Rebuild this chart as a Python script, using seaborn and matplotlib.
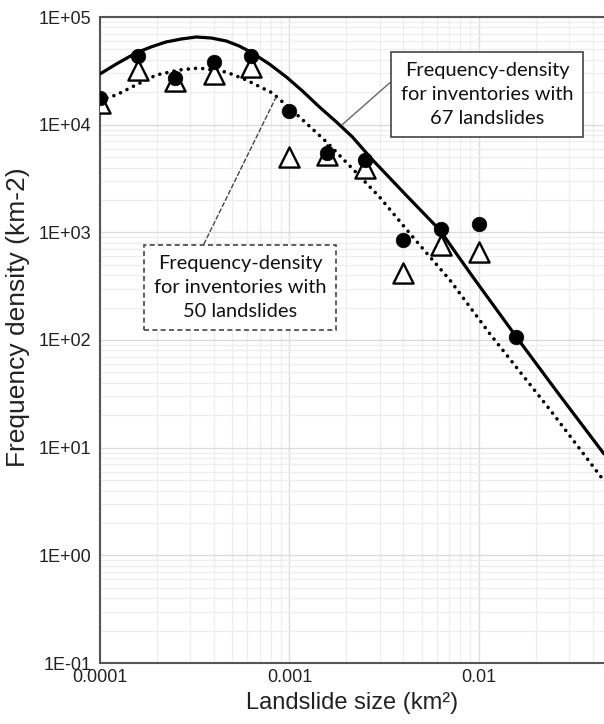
import numpy as np
import pandas as pd
import matplotlib
matplotlib.use('Agg')
import matplotlib.pyplot as plt
import matplotlib.ticker as mticker
import seaborn as sns

# ── Data ──────────────────────────────────────────────────────────────
# binned landslide sizes (km2)
bin_size = [1.0e-4, 1.58e-4, 2.5e-4, 3.98e-4, 6.3e-4, 1.0e-3,
            1.58e-3, 2.5e-3, 3.98e-3, 6.3e-3, 1.0e-2, 1.58e-2]
# frequency density, inventories with 67 landslides (filled circles)
dens_67 = [1.77e4, 4.3e4, 2.7e4, 3.8e4, 4.35e4, 1.34e4,
           5.45e3, 4.7e3, 850, 1.08e3, 1.2e3, 107]
# frequency density, inventories with 50 landslides (open triangles)
tri_size = bin_size[:11]
dens_50 = [1.6e4, 3.2e4, 2.55e4, 2.95e4, 3.4e4, 5.0e3,
           5.2e3, 3.97e3, 420, 764, 658]

# fitted frequency-density curve, 67 landslides (solid)
fit67_x = [1.0e-4, 1.22e-4, 1.55e-4, 1.86e-4, 2.23e-4, 2.69e-4, 3.22e-4,
           3.87e-4, 4.65e-4, 5.43e-4, 6.37e-4, 7.83e-4, 9.64e-4, 1.17e-3,
           1.44e-3, 1.77e-3, 2.15e-3, 2.75e-3, 4.0e-3, 6.22e-3, 9.3e-3,
           1.59e-2, 2.59e-2, 4.58e-2]
fit67_y = [2.96e4, 3.66e4, 4.64e4, 5.27e4, 5.86e4, 6.25e4, 6.52e4,
           6.38e4, 5.98e4, 5.38e4, 4.64e4, 3.66e4, 2.77e4, 2.06e4,
           1.46e4, 1.06e4, 7.69e3, 4.70e3, 2.35e3, 1.05e3, 385,
           105, 33, 8.75]
# fitted frequency-density curve, 50 landslides (dotted)
fit50_x = [1.0e-4, 1.22e-4, 1.55e-4, 1.98e-4, 2.62e-4, 3.34e-4, 4.65e-4,
           5.92e-4, 8.13e-4, 1.13e-3, 1.57e-3, 2.2e-3, 2.99e-3, 4.48e-3,
           7.03e-3, 1.14e-2, 2.38e-2, 4.58e-2]
fit50_y = [1.69e4, 1.89e4, 2.34e4, 2.89e4, 3.22e4, 3.36e4, 3.08e4,
           2.60e4, 1.97e4, 1.18e4, 6.9e3, 3.75e3, 2.13e3, 906,
           361, 115, 22.4, 4.92]

# ── Style ─────────────────────────────────────────────────────────────
sns.set_theme(style='white')
plt.rcParams['font.family'] = ['Liberation Sans', 'DejaVu Sans']

fig = plt.figure(figsize=(6.04, 7.24), dpi=100)
ax = fig.add_axes([100 / 604, 61 / 724, 504 / 604, 646 / 724])

ax.set_xscale('log')
ax.set_yscale('log')
ax.set_xlim(1e-4, 4.58e-2)
ax.set_ylim(1e-1, 1e5)

ax.grid(which='major', color='#dcdcdc', lw=1.0, zorder=0)
ax.grid(which='minor', color='#ededed', lw=0.9, zorder=0)
ax.set_axisbelow(True)

# ── Curves ────────────────────────────────────────────────────────────
sns.lineplot(x=fit67_x, y=fit67_y, ax=ax, color='black', lw=2.3,
             sort=True, zorder=3)
sns.lineplot(x=fit50_x, y=fit50_y, ax=ax, color='black', lw=2.6,
             sort=True, zorder=3, linestyle=(0, (0.01, 2.0)),
             dash_capstyle='round')

# ── Points ────────────────────────────────────────────────────────────
sns.scatterplot(x=tri_size, y=dens_50, ax=ax, marker='^', s=210,
                facecolor='white', edgecolor='black', linewidth=1.7,
                zorder=4)
sns.scatterplot(x=bin_size, y=dens_67, ax=ax, marker='o', s=110,
                color='black', edgecolor='black', linewidth=0.5, zorder=5)

# ── Axes cosmetics ────────────────────────────────────────────────────
for side in ['left', 'bottom', 'top']:
    ax.spines[side].set_color('#555555')
    ax.spines[side].set_linewidth(1.5)
ax.spines['right'].set_visible(False)

ax.xaxis.set_major_locator(mticker.LogLocator(base=10, numticks=10))
ax.xaxis.set_minor_locator(mticker.LogLocator(base=10, subs=np.arange(2, 10), numticks=20))
ax.yaxis.set_major_locator(mticker.LogLocator(base=10, numticks=10))
ax.yaxis.set_minor_locator(mticker.LogLocator(base=10, subs=np.arange(2, 10), numticks=20))
ax.xaxis.set_major_formatter(mticker.FuncFormatter(lambda v, _: f'{v:g}'))
ax.yaxis.set_major_formatter(mticker.FuncFormatter(
    lambda v, _: f'1E{int(round(np.log10(v))):+03d}'))
ax.xaxis.set_minor_formatter(mticker.NullFormatter())
ax.yaxis.set_minor_formatter(mticker.NullFormatter())

ax.tick_params(which='both', direction='in', color='#555555', width=1.2,
               top=False, right=False, labelsize=13, labelcolor='#222222')
ax.tick_params(which='major', length=6)
ax.tick_params(which='minor', length=4)
ax.tick_params(axis='y', pad=6)
ax.tick_params(axis='x', pad=4)

ax.set_xlabel('Landslide size (km²)', fontsize=17, color='#222222', labelpad=5)
ax.set_ylabel('Frequency density (km-2)', fontsize=19, color='#222222')
ax.yaxis.set_label_coords(-0.139, 0.535)

# ── Annotation boxes ──────────────────────────────────────────────────
box_font = ['Lato', 'DejaVu Sans']
ax.annotate('Frequency-density\nfor inventories with\n67 landslides',
            xy=(1.9e-3, 1.0e4), xycoords='data',
            xytext=(0.768, 0.880), textcoords='axes fraction',
            ha='center', va='center', fontsize=14.4, family=box_font,
            linespacing=1.5, color='#111111', zorder=6,
            bbox=dict(boxstyle='square,pad=0.5', fc='white',
                      ec='#444444', lw=1.2),
            arrowprops=dict(arrowstyle='-', color='#666666', lw=1.0,
                            relpos=(0, 0.83), shrinkA=0, shrinkB=0))

ax.annotate('Frequency-density\nfor inventories with\n50 landslides',
            xy=(8.5e-4, 1.8e4), xycoords='data',
            xytext=(0.278, 0.582), textcoords='axes fraction',
            ha='center', va='center', fontsize=14.4, family=box_font,
            linespacing=1.5, color='#111111', zorder=6,
            bbox=dict(boxstyle='square,pad=0.5', fc='white',
                      ec='#444444', lw=1.2, ls=(0, (3, 2))),
            arrowprops=dict(arrowstyle='-', color='#444444', lw=1.0,
                            ls=(0, (3, 2)), relpos=(0.26, 1.0),
                            shrinkA=0, shrinkB=0))

fig.savefig('out.png', dpi=100)
